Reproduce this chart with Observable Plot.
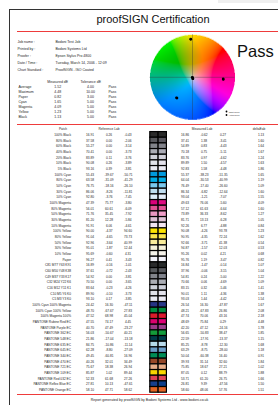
<!DOCTYPE html>
<html><head><meta charset="utf-8">
<script src="https://cdn.jsdelivr.net/npm/d3@7"></script>
<script src="https://cdn.jsdelivr.net/npm/@observablehq/plot@0.6"></script>
<style>
html,body{margin:0;padding:0;background:#fff;}
body{width:278px;height:405px;position:relative;overflow:hidden;font-family:"Liberation Sans",Arial,sans-serif;}
.abs{position:absolute;}
#shade{left:218px;top:0;width:60px;height:3px;background:#efefef;}
#frame{left:9px;top:9px;width:400px;height:500px;border-left:1px solid #333;border-top:1px solid #333;}
.red{left:17px;width:261px;height:1.5px;background:#ee3b3b;}
#title{left:0;width:306px;top:14.2px;text-align:center;font-size:11px;line-height:11px;color:#111;white-space:nowrap;}
#pass{left:237px;top:42.5px;font-size:16.5px;line-height:16.5px;color:#111;}
svg text{font-family:"Liberation Sans",Arial,sans-serif;}
#wheel image{filter:blur(0.5px);}
</style></head>
<body>
<div id="shade" class="abs"></div>
<div id="frame" class="abs"></div>
<div id="title" class="abs">proofSIGN Certification</div>
<div class="abs red" style="top:30.5px"></div>
<div class="abs red" style="top:123.5px"></div>
<div class="abs red" style="top:393.5px"></div>
<div id="pass" class="abs">Pass</div>
<div id="info" class="abs" style="left:0;top:34px"></div>
<div id="stats" class="abs" style="left:0;top:76px"></div>
<div id="wheel" class="abs" style="left:140px;top:30px"></div>
<div id="table" class="abs" style="left:0;top:122px"></div>
<script>
// ---------- data ----------
const infoLabels = ["Job name :", "Printed by :", "Proofer :", "Date / Time :", "Chart Standard :"];
const infoValues = ["Bodoni Test Job", "Bodoni Systems Ltd", "Epson Stylus Pro 4800", "Tuesday, March 14, 2006 - 12:09", "ProofSIGN - ISO Coated"];

const statLabels = ["Average", "Maximum", "Paper", "Cyan", "Magenta", "Yellow", "Black"];
const statMeasured = [1.52, 4.48, 0.82, 1.65, 4.09, 1.23, 1.13];
const statTolerance = [4.00, 10.00, 3.00, 5.00, 5.00, 5.00, 5.00];
const statResult = ["Pass", "Pass", "Pass", "Pass", "Pass", "Pass", "Pass"];

const patches = [
  "100% Black", "80% Black", "60% Black", "40% Black", "20% Black", "10% Black", "5% Black",
  "100% Cyan", "80% Cyan", "50% Cyan", "30% Cyan", "10% Cyan",
  "100% Magenta", "80% Magenta", "50% Magenta", "30% Magenta", "10% Magenta",
  "100% Yellow", "80% Yellow", "50% Yellow", "30% Yellow", "10% Yellow",
  "Paper", "C81 M77 Y63 K91", "C60 M50 Y48 K38", "C49 M37 Y33 K17", "C32 M24 Y22 K6",
  "C16 M12 Y11 K1", "C10 M5 Y6 K0", "C5 M3 Y3 K0",
  "100% Cyan 100% Magenta", "100% Cyan 100% Yellow", "100% Magenta 100%",
  "PANTONE Rubine Red EC", "PANTONE Purple EC", "PANTONE 362 EC", "PANTONE 548 EC",
  "PANTONE 635 EC", "PANTONE 645 EC", "PANTONE 340 EC", "PANTONE 470 EC", "PANTONE 721 EC",
  "PANTONE 109 EC", "PANTONE Red 032 EC", "PANTONE Reflex Blue EC", "PANTONE Orange EC"
];
const refL = [16.91, 37.58, 55.27, 70.41, 83.89, 90.08, 93.16,
  55.43, 63.58, 76.75, 86.06, 92.80,
  47.39, 56.01, 71.76, 81.20, 91.91,
  90.00, 91.04, 92.96, 95.01, 95.69,
  96.27, 16.89, 37.61, 54.92, 70.50, 83.64, 89.90, 93.10,
  24.42, 48.70, 47.52,
  47.55, 40.70, 56.03, 21.86, 84.75, 62.28, 49.45, 40.26, 75.67, 85.87, 52.33, 27.81, 58.10];
const refA = [0.26, 0.00, 0.00, 0.00, 0.11, 0.26, 0.39,
  -39.67, -31.09, -18.16, -8.26, -3.76,
  75.77, 60.61, 35.45, 12.28, 6.06,
  -4.37, -4.65, -3.64, -1.87, -0.60,
  0.41, -0.16, -0.72, 0.00, 0.00, -0.23, -0.10, 0.17,
  16.30, -67.67, 68.98,
  74.17, 47.49, -50.67, -17.04, -10.86, -8.80, -60.81, 32.01, 18.38, 1.02, 61.68, 10.13, 47.71];
const refB = [-0.43, -2.06, -3.14, -3.73, -3.76, -3.89, -3.81,
  -50.71, -41.29, -26.10, -11.81, -7.45,
  -3.80, -6.09, -7.92, -5.84, -4.61,
  94.60, 73.73, 40.99, 12.44, 4.31,
  -3.43, -1.01, -2.43, -3.81, -3.65, -4.26, -3.73, -3.85,
  -47.11, 27.83, 45.04,
  4.45, -23.27, 40.21, -13.18, -11.14, -27.09, 16.96, 34.49, 26.94, 89.44, 27.26, -47.61, 58.62];
const measL = [16.86, 37.41, 54.89, 70.18, 83.76, 89.89, 92.83,
  55.37, 64.04, 76.49, 86.34, 93.04,
  49.63, 57.12, 73.89, 81.71, 92.26,
  90.08, 90.95, 92.66, 94.87, 95.26,
  95.76, 16.84, 37.96, 54.81, 70.66, 83.15, 90.01, 93.03,
  26.54, 48.21, 47.74,
  48.69, 42.20, 56.65, 22.59, 85.25, 63.29, 50.04, 39.93, 75.85, 87.05, 53.71, 26.81, 58.60];
const measA = [-0.62, 1.38, 0.83, 0.75, 0.97, 1.50, 1.58,
  -38.23, -30.53, -17.40, -6.82, -1.21,
  76.06, 61.63, 36.33, 13.13, 6.77,
  -4.26, -4.35, -3.71, -1.57, 0.02,
  1.19, -1.47, -0.06, 0.24, 0.06, 0.32, 1.11, 1.44,
  16.30, -67.83, 70.06,
  75.84, 47.12, -50.83, -17.91, -8.78, -8.75, -60.38, 31.14, 18.67, 0.12, 61.20, 9.39, 48.06];
const measB = [0.27, -3.41, -4.43, -5.11, -4.62, -4.57, -4.48,
  -51.35, -40.99, -26.60, -12.64, -7.07,
  -5.60, -6.64, -8.62, -6.28, -4.88,
  93.78, 72.24, 41.38, 12.03, 4.21,
  -3.47, -0.14, -3.15, -5.00, -4.69, -5.46, -4.36, -4.42,
  -47.87, 26.86, 43.16,
  0.29, -24.16, 38.47, -13.37, -12.30, -28.00, 16.40, 32.60, 27.21, 88.79, 26.75, -47.56, 57.76];
const deltaE = [1.13, 1.60, 1.64, 1.67, 1.24, 1.63, 1.86,
  1.65, 1.19, 1.09, 1.60, 1.55,
  4.09, 1.60, 1.27, 1.05, 0.84,
  1.23, 1.62, 0.54, 0.53, 0.68,
  0.82, 1.07, 1.04, 1.22, 1.09, 1.41, 1.38, 1.54,
  1.67, 2.08, 2.18,
  4.48, 1.78, 1.85, 1.15, 1.68, 1.18, 0.91, 1.84, 1.02, 1.88, 1.66, 1.50, 1.51];
const wheelPatches = ["100% Cyan", "100% Magenta", "100% Yellow", "Paper", "100% Black"];
const legendLabels = ["Target Colour", "Actual Colour"];
const footerText = "Report generated by proofSIGN by Bodoni Systems Ltd - www.bodoni.co.uk";

// ---------- derived tables ----------
const f2 = v => v.toFixed(2);
const rows = patches.map((p, i) => ({
  patch: p, refL: refL[i], refA: refA[i], refB: refB[i],
  measL: measL[i], measA: measA[i], measB: measB[i], dE: deltaE[i],
  refColor: d3.lab(refL[i], refA[i], refB[i]).formatHex(),
  measColor: d3.lab(measL[i], measA[i], measB[i]).formatHex()
}));
const infoRows = infoLabels.map((l, i) => ({label: l, value: infoValues[i]}));
const statRows = statLabels.map((l, i) => ({label: l, m: statMeasured[i], t: statTolerance[i], r: statResult[i]}));

const TXT = "#262626";

// ---------- job info ----------
document.getElementById("info").append(Plot.plot({
  width: 140, height: 42, margin: 0,
  x: {type: "point", domain: ["label", "value"], range: [17, 55], padding: 0, axis: null},
  y: {type: "band", domain: infoLabels, range: [3.3, 40.4], padding: 0, axis: null},
  marks: [
    Plot.text(infoRows, {x: () => "label", y: "label", text: "label", textAnchor: "start", fontSize: 3.5, fill: TXT}),
    Plot.text(infoRows, {x: () => "value", y: "label", text: "value", textAnchor: "start", fontSize: 3.5, fill: TXT})
  ]
}));

// ---------- summary stats ----------
document.getElementById("stats").append(Plot.plot({
  width: 140, height: 46, margin: 0,
  x: {type: "point", domain: ["label", "measured", "tolerance", "result"], range: [17, 108], padding: 0, axis: null},
  y: {type: "band", domain: ["hdr", ...statLabels], range: [0.5, 46], padding: 0, axis: null},
  marks: [
    Plot.text(["Measured dE"], {x: () => "measured", y: () => "hdr", text: d => d, dx: 9.2, fontSize: 3.5, fill: TXT}),
    Plot.text(["Tolerance dE"], {x: () => "tolerance", y: () => "hdr", text: d => d, dx: 12.3, fontSize: 3.5, fill: TXT}),
    Plot.text(statRows, {x: () => "label", y: "label", text: "label", textAnchor: "start", fontSize: 3.5, fill: TXT}),
    Plot.text(statRows, {x: () => "measured", y: "label", text: d => f2(d.m), dx: 9.2, fontSize: 3.5, fill: TXT}),
    Plot.text(statRows, {x: () => "tolerance", y: "label", text: d => f2(d.t), dx: 12.0, fontSize: 3.5, fill: TXT}),
    Plot.text(statRows, {x: () => "result", y: "label", text: "r", textAnchor: "start", fontSize: 3.5, fill: TXT})
  ]
}));

// ---------- colour wheel (a*, b* plane) ----------
const R = 105;
function wheelColor(a, b) {
  const r = Math.hypot(a, b) / R;
  if (r > 1) return null;
  const k = 1.45 * Math.pow(Math.max(r, 1e-6), -0.35);
  const L = 58 + 0.3 * b * r + 22 * Math.pow(1 - r, 3);
  return d3.lab(L, a * k, b * k).formatHex();
}
const wheelDots = rows.filter(d => wheelPatches.includes(d.patch));
let wheelMark;
if (Plot.raster) {
  wheelMark = Plot.raster({x1: -R, x2: R, y1: -R, y2: R, fill: wheelColor, pixelSize: 0.5});
} else {
  const grid = [];
  for (let a = -R; a < R; a += 2.5) for (let b = -R; b < R; b += 2.5) {
    const c = wheelColor(a + 1.25, b + 1.25);
    if (c) grid.push({a, b, c});
  }
  wheelMark = Plot.rect(grid, {x1: "a", x2: d => d.a + 2.8, y1: "b", y2: d => d.b + 2.8, fill: "c"});
}
document.getElementById("wheel").append(Plot.plot({
  width: 138, height: 94, margin: 0,
  x: {domain: [-R, R], range: [9.5, 94.5], axis: null},
  y: {domain: [-R, R], range: [89.3, 4.3], axis: null},
  color: {type: "identity"},
  marks: [
    wheelMark,
    Plot.ruleX([0], {y1: -R, y2: R, stroke: "#333", strokeOpacity: 0.7, strokeWidth: 0.5}),
    Plot.ruleY([0], {x1: -R, x2: R, stroke: "#333", strokeOpacity: 0.7, strokeWidth: 0.5}),
    Plot.dot(wheelDots, {x: "refA", y: "refB", r: 1.3, fill: "#000"}),
    Plot.dot(wheelDots, {x: "measA", y: "measB", r: 1.3, fill: "#000"}),
    Plot.dot([legendLabels[0]], {frameAnchor: "top-left", dx: 86, dy: 81, r: 0.9, fill: "#000"}),
    Plot.dot([legendLabels[1]], {frameAnchor: "top-left", dx: 86, dy: 84.5, r: 0.9, fill: "#000"}),
    Plot.text([legendLabels[0]], {frameAnchor: "top-left", dx: 88.3, dy: 81, text: d => d, textAnchor: "start", fontSize: 1.8, fill: "#222"}),
    Plot.text([legendLabels[1]], {frameAnchor: "top-left", dx: 88.3, dy: 84.5, text: d => d, textAnchor: "start", fontSize: 1.8, fill: "#222"})
  ]
}));

// ---------- main table ----------
const cols = ["patch", "refL", "refA", "refB", "swR", "swM", "measL", "measA", "measB", "gap", "dE"];
const numCol = (key) => Plot.text(rows, {x: () => key, y: "patch", text: d => f2(d[key]), fontSize: 3.2, fill: TXT});
document.getElementById("table").append(Plot.plot({
  width: 278, height: 283, margin: 0,
  x: {type: "band", domain: cols, range: [58.9, 272.3], padding: 0, axis: null},
  y: {type: "band", domain: ["hdr", ...patches], range: [3.9, 270.2], padding: 0, axis: null},
  color: {type: "identity"},
  marks: [
    Plot.text(["Patch"], {x: () => "patch", y: () => "hdr", text: d => d, dx: -8, fontSize: 3.2, fill: TXT}),
    Plot.text(["Reference Lab"], {x: () => "refA", y: () => "hdr", text: d => d, fontSize: 3.2, fill: TXT}),
    Plot.text(["Measured Lab"], {x: () => "measA", y: () => "hdr", text: d => d, dx: -2, fontSize: 3.2, fill: TXT}),
    Plot.text(["deltaEab"], {x: () => "dE", y: () => "hdr", text: d => d, dx: -2, fontSize: 3.2, fill: TXT}),
    Plot.text(rows, {x: () => "patch", y: "patch", text: "patch", textAnchor: "end", fontSize: 3.2, fill: TXT}),
    numCol("refL"), numCol("refA"), numCol("refB"),
    numCol("measL"), numCol("measA"), numCol("measB"), numCol("dE"),
    Plot.cell(rows, {x: () => "swR", y: "patch", fill: "refColor", stroke: "#000", strokeWidth: 1.2, insetLeft: 12.8, insetRight: -2.1}),
    Plot.cell(rows, {x: () => "swM", y: "patch", fill: "measColor", stroke: "#000", strokeWidth: 1.2, insetLeft: 2.1, insetRight: 8.6}),
    Plot.text([footerText], {frameAnchor: "bottom", dx: 10, dy: -4.3, text: d => d, fontSize: 3.5, fill: TXT})
  ]
}));
</script>
</body></html>
